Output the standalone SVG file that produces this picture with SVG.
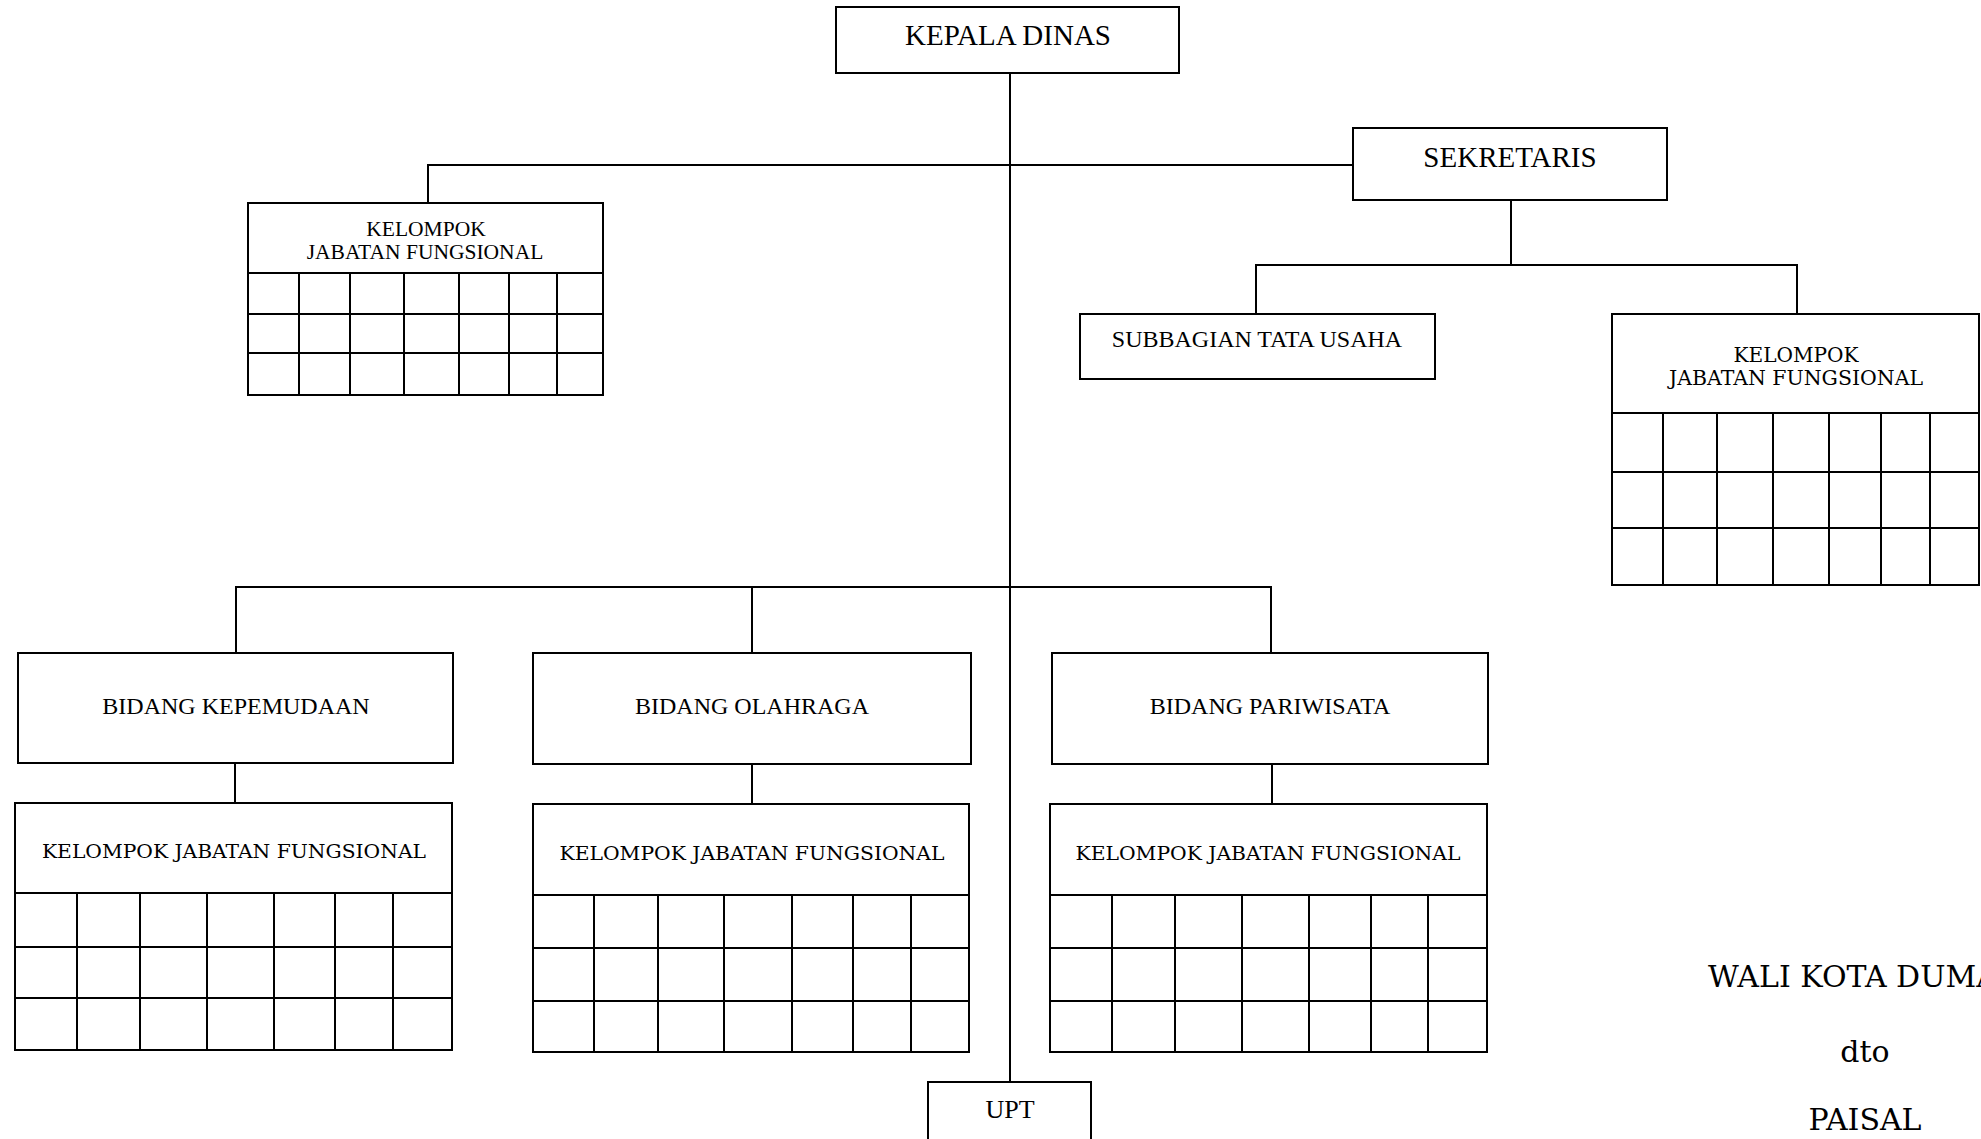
<svg xmlns="http://www.w3.org/2000/svg" width="1981" height="1139" viewBox="0 0 1981 1139">
<style>
.box{fill:#fff;stroke:#000;stroke-width:2}
.ln{fill:none;stroke:#000;stroke-width:2}
.t{font-family:"Liberation Serif","Times New Roman",serif;fill:#000;text-anchor:middle}
.c{font-family:"DejaVu Serif","Century Schoolbook",serif;fill:#000;text-anchor:middle}
</style>
<rect width="1981" height="1139" fill="#fff"/>
<g id="connectors" class="ln">
<path d="M1010 73V1082"/>
<path d="M428 203V165H1353"/>
<path d="M1511 200V265M1256 314V265H1797V314"/>
<path d="M236 653V587H1271V653M752 587V653"/>
<path d="M235 763V803M752 764V804M1272 764V804"/>
</g>
<g id="kepala-dinas">
<rect class="box" x="836" y="7" width="343" height="66"/>
<text class="t" x="1008" y="45" font-size="29">KEPALA DINAS</text>
</g>
<g id="sekretaris">
<rect class="box" x="1353" y="128" width="314" height="72"/>
<text class="t" x="1510" y="167" font-size="29">SEKRETARIS</text>
</g>
<g id="kjf-kepala">
<rect class="box" x="248" y="203" width="355" height="192"/>
<path class="ln" d="M248 273H603M248 314H603M248 353H603M299 273V395M350 273V395M404 273V395M459 273V395M509 273V395M557 273V395"/>
<text class="t" x="426" y="235.5" font-size="21.5">KELOMPOK</text>
<text class="t" x="425" y="259" font-size="21.5">JABATAN FUNGSIONAL</text>
</g>
<g id="subbagian-tu">
<rect class="box" x="1080" y="314" width="355" height="65"/>
<text class="t" x="1257" y="347" font-size="24">SUBBAGIAN TATA USAHA</text>
</g>
<g id="kjf-sekretaris">
<rect class="box" x="1612" y="314" width="367" height="271"/>
<path class="ln" d="M1612 413H1979M1612 472H1979M1612 528H1979M1663 413V585M1717 413V585M1773 413V585M1829 413V585M1881 413V585M1930 413V585"/>
<text class="c" x="1796" y="362" font-size="20.5" textLength="125" lengthAdjust="spacingAndGlyphs">KELOMPOK</text>
<text class="c" x="1796" y="385" font-size="20.5" textLength="254" lengthAdjust="spacingAndGlyphs">JABATAN FUNGSIONAL</text>
</g>
<g id="bidang-kepemudaan">
<rect class="box" x="18" y="653" width="435" height="110"/>
<text class="t" x="236" y="714" font-size="24">BIDANG KEPEMUDAAN</text>
</g>
<g id="bidang-olahraga">
<rect class="box" x="533" y="653" width="438" height="111"/>
<text class="t" x="752" y="714" font-size="24">BIDANG OLAHRAGA</text>
</g>
<g id="bidang-pariwisata">
<rect class="box" x="1052" y="653" width="436" height="111"/>
<text class="t" x="1270" y="714" font-size="24">BIDANG PARIWISATA</text>
</g>
<g id="kjf-kepemudaan">
<rect class="box" x="15" y="803" width="437" height="247"/>
<path class="ln" d="M15 893H452M15 947H452M15 998H452M77 893V1050M140 893V1050M207 893V1050M274 893V1050M335 893V1050M393 893V1050"/>
<text class="c" x="234" y="858" font-size="18.5" textLength="384" lengthAdjust="spacingAndGlyphs">KELOMPOK JABATAN FUNGSIONAL</text>
</g>
<g id="kjf-olahraga">
<rect class="box" x="533" y="804" width="436" height="248"/>
<path class="ln" d="M533 895H969M533 948H969M533 1001H969M594 895V1052M658 895V1052M724 895V1052M792 895V1052M853 895V1052M911 895V1052"/>
<text class="c" x="752" y="860" font-size="18.5" textLength="385" lengthAdjust="spacingAndGlyphs">KELOMPOK JABATAN FUNGSIONAL</text>
</g>
<g id="kjf-pariwisata">
<rect class="box" x="1050" y="804" width="437" height="248"/>
<path class="ln" d="M1050 895H1487M1050 948H1487M1050 1001H1487M1112 895V1052M1175 895V1052M1242 895V1052M1309 895V1052M1371 895V1052M1428 895V1052"/>
<text class="c" x="1268" y="860" font-size="18.5" textLength="385" lengthAdjust="spacingAndGlyphs">KELOMPOK JABATAN FUNGSIONAL</text>
</g>
<g id="upt">
<rect class="box" x="928" y="1082" width="163" height="70"/>
<text class="t" x="1010" y="1118" font-size="26">UPT</text>
</g>
<g id="signature">
<text class="c" x="1708" y="987" font-size="30" style="text-anchor:start">WALI KOTA DUMAI,</text>
<text class="c" x="1865" y="1062" font-size="30">dto</text>
<text class="c" x="1865" y="1130" font-size="30">PAISAL</text>
</g>
</svg>
